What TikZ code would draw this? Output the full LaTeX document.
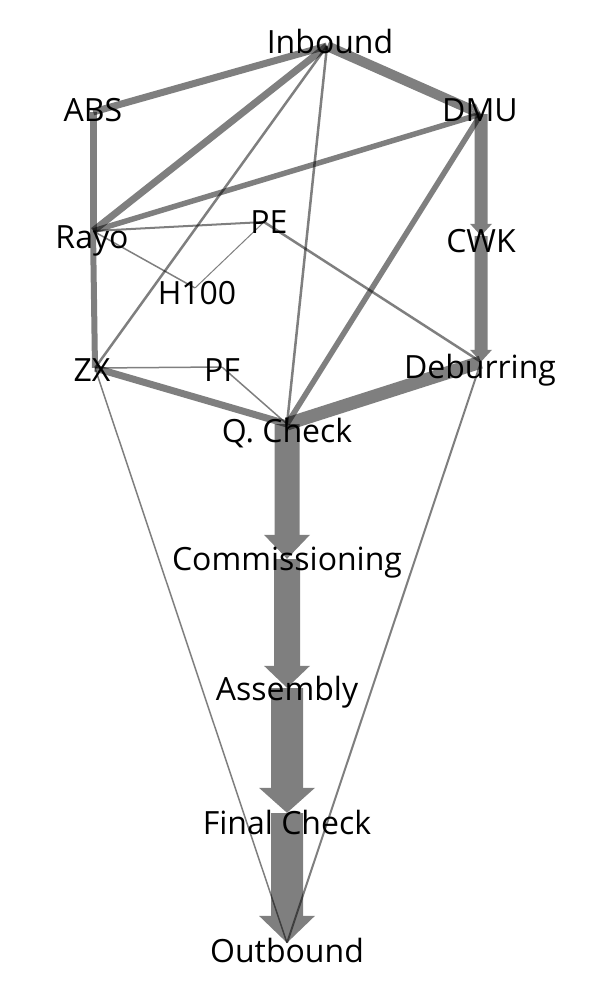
\documentclass[tikz,border=0pt]{standalone}
\usepackage{fontspec}
\setmainfont{Open Sans}
\usetikzlibrary{arrows.meta}
\begin{document}
\begin{tikzpicture}[x=1pt,y=-1pt,
  pt/.style={inner sep=0pt,minimum size=0pt},
  lbl/.style={inner sep=0pt,font=\fontsize{32}{36}\selectfont,text=black},
  edge/.style={draw=black,draw opacity=0.5,line width=#1},
  aedge/.style={draw=black,fill=black,line width=#1},
  tip/.style n args={2}{-{Triangle[width=#1pt,length=#2pt,line width=0pt]}},
  grp/.style={transparency group,opacity=0.5}
]
\useasboundingbox (0,0) rectangle (601,992);
% edge points
\node[pt] (inb) at (327,46) {};
\node[pt] (abs) at (93,112) {};
\node[pt] (dmu) at (481,114) {};
\node[pt] (rayo) at (93,231) {};
\node[pt] (pe) at (264,222) {};
\node[pt] (cwk) at (481,236) {};
\node[pt] (h100) at (195,288) {};
\node[pt] (zx) at (95,368) {};
\node[pt] (pf) at (222,367) {};
\node[pt] (deb) at (481,362) {};
\node[pt] (qc) at (287,424) {};
\node[pt] (comm) at (287,559) {};
\node[pt] (asm) at (287,688) {};
\node[pt] (fc) at (287,813) {};
\node[pt] (out) at (287,943) {};
% edges
\draw[edge=7] (inb) -- (abs);
\begin{scope}[grp]\draw[aedge=10,tip={15}{9}] (inb) -- (dmu);\end{scope}
\draw[edge=7] (inb) -- (rayo);
\draw[edge=2.5] (inb) -- (zx);
\draw[edge=2.5] (inb) -- (qc);
\draw[edge=7] (abs) -- (rayo);
\draw[edge=5.5] (dmu) -- (rayo);
\draw[edge=5.5] (dmu) -- (qc);
\begin{scope}[grp]\draw[aedge=13,tip={22}{12}] (dmu) -- (cwk);\end{scope}
\begin{scope}[grp]\draw[aedge=13,tip={22}{12}] (cwk) -- (deb);\end{scope}
\draw[edge=6] (rayo) -- (zx);
\draw[edge=2] (rayo) -- (pe);
\draw[edge=1.5] (rayo) -- (h100);
\draw[edge=1] (h100) -- (pe);
\draw[edge=2.5] (pe) -- (deb);
\draw[edge=1.5] (zx) -- (pf);
\draw[edge=7] (zx) -- (qc);
\draw[edge=1.5] (pf) -- (qc);
\draw[edge=13] (deb) -- (qc);
\begin{scope}[grp]\draw[aedge=25,tip={46}{24}] (qc) -- (comm);\end{scope}
\begin{scope}[grp]\draw[aedge=26,tip={46}{22}] (comm) -- (asm);\end{scope}
\begin{scope}[grp]\draw[aedge=32,tip={56}{25}] (asm) -- (fc);\end{scope}
\begin{scope}[grp]\draw[aedge=32,tip={56}{27}] (fc) -- (out);\end{scope}
\draw[edge=1.5] (zx) -- (out);
\draw[edge=2] (deb) -- (out);
% labels
\node[lbl] (inbL) at (330,42) {Inbound};
\node[lbl] (absL) at (93,110) {ABS};
\node[lbl] (dmuL) at (480,110) {DMU};
\node[lbl] (rayoL) at (92,241) {Rayo};
\node[lbl] (peL) at (269,222) {PE};
\node[lbl] (cwkL) at (481,241) {CWK};
\node[lbl] (h100L) at (197,293) {H100};
\node[lbl] (zxL) at (92,370) {ZX};
\node[lbl] (pfL) at (222,370) {PF};
\node[lbl] (debL) at (480,370) {Deburring};
\node[lbl] (qcL) at (287,433) {Q. Check};
\node[lbl] (commL) at (287,563) {Commissioning};
\node[lbl] (asmL) at (287,692) {Assembly};
\node[lbl] (fcL) at (287,822) {Final Check};
\node[lbl] (outL) at (287,950) {Outbound};
\end{tikzpicture}
\end{document}
